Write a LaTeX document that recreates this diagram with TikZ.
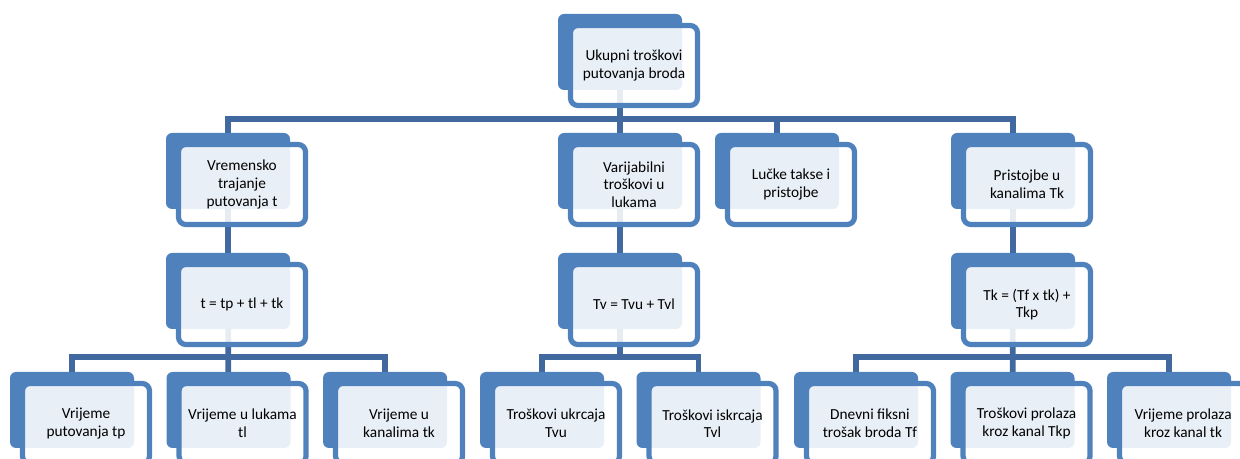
\documentclass[tikz,border=0pt]{standalone}
\usepackage{fontspec}
\setmainfont{Carlito}
\usetikzlibrary{positioning,calc}
\definecolor{boxblue}{HTML}{4F81BD}
\definecolor{linkblue}{HTML}{41699F}
\pgfdeclarelayer{background}
\pgfsetlayers{background,main}
\tikzset{
  backbox/.style  = {rectangle,fill=boxblue,rounded corners=4.5pt,minimum width=93pt,minimum height=57pt,inner sep=0pt},
  frontbox/.style = {rectangle,draw=boxblue,line width=3.9pt,fill=white,fill opacity=0.88,text opacity=1,rounded corners=5.5pt,
                     minimum width=95.25pt,minimum height=60pt,inner sep=0pt,align=center,font=\fontsize{11.5}{13.2}\selectfont},
  link/.style     = {draw=linkblue,line width=4.3pt},
}

\begin{document}
\begin{tikzpicture}[x=0.75pt,y=-0.75pt]
\useasboundingbox (0,0) rectangle (1240,459);
% tabs
\node[backbox] (root)    at (620,52)  {};
\node[backbox] (time)    at (228,171) {};
\node[backbox] (varport) at (620,171) {};
\node[backbox] (portfee) at (777,171) {};
\node[backbox] (canal)   at (1013,171) {};
\node[backbox] (teq)     at (228,291) {};
\node[backbox] (tveq)    at (620,291) {};
\node[backbox] (tkeq)    at (1013,291) {};
\node[backbox] (tp)      at (72,410)  {};
\node[backbox] (tl)      [right=24pt of tp] {};
\node[backbox] (tk)      [right=24pt of tl] {};
\node[backbox] (tvu)     at (542,410) {};
\node[backbox] (tvl)     [right=24pt of tvu] {};
\node[backbox] (tf)      at (856,410) {};
\node[backbox] (tkp)     [right=24pt of tf] {};
\node[backbox] (tdur)    [right=24pt of tkp] {};
% text boxes
\node[frontbox] (root-f)    at ($(root)+(14,13.5)$)    {Ukupni troškovi\\putovanja broda};
\node[frontbox] (time-f)    at ($(time)+(14,13.5)$)    {Vremensko\\trajanje\\putovanja t};
\node[frontbox] (varport-f) at ($(varport)+(14,13.5)$) {Varijabilni\\troškovi u\\lukama};
\node[frontbox] (portfee-f) at ($(portfee)+(14,13.5)$) {Lučke takse i\\pristojbe};
\node[frontbox] (canal-f)   at ($(canal)+(14,13.5)$)   {Pristojbe u\\kanalima Tk};
\node[frontbox] (teq-f)     at ($(teq)+(14,13.5)$)     {t = tp + tl + tk};
\node[frontbox] (tveq-f)    at ($(tveq)+(14,13.5)$)    {Tv = Tvu + Tvl};
\node[frontbox] (tkeq-f)    at ($(tkeq)+(14,13.5)$)    {Tk = (Tf x tk) +\\Tkp};
\node[frontbox] (tp-f)      at ($(tp)+(14,13.5)$)      {Vrijeme\\putovanja tp};
\node[frontbox] (tl-f)      at ($(tl)+(14,13.5)$)      {Vrijeme u lukama\\tl};
\node[frontbox] (tk-f)      at ($(tk)+(14,13.5)$)      {Vrijeme u\\kanalima tk};
\node[frontbox] (tvu-f)     at ($(tvu)+(14,13.5)$)     {Troškovi ukrcaja\\Tvu};
\node[frontbox] (tvl-f)     at ($(tvl)+(14,13.5)$)     {Troškovi iskrcaja\\Tvl};
\node[frontbox] (tf-f)      at ($(tf)+(14,13.5)$)      {Dnevni fiksni\\trošak broda Tf};
\node[frontbox] (tkp-f)     at ($(tkp)+(14,13.5)$)     {Troškovi prolaza\\kroz kanal Tkp};
\node[frontbox] (tdur-f)    at ($(tdur)+(14,13.5)$)    {Vrijeme prolaza\\kroz kanal tk};
% connectors
\coordinate (busA) at (620,119);
\coordinate (busB) at (228,357);
\coordinate (busC) at (620,357);
\coordinate (busD) at (1013,357);
\begin{pgfonlayer}{background}
\draw[link] (time.center) |- (busA) -| (canal.center);
\draw[link] (root.center) -- (varport.center);
\draw[link] (portfee.center) -- (portfee.center |- busA);
\draw[link] (time.center) -- (teq.center);
\draw[link] (varport.center) -- (tveq.center);
\draw[link] (canal.center) -- (tkeq.center);
\draw[link] (tp.center) |- (busB) -| (tk.center);
\draw[link] (teq.center) -- (tl.center);
\draw[link] (tvu.center) |- (busC) -| (tvl.center);
\draw[link] (tveq.center) -- (busC);
\draw[link] (tf.center) |- (busD) -| (tdur.center);
\draw[link] (tkeq.center) -- (tkp.center);
\end{pgfonlayer}
\end{tikzpicture}
\end{document}
